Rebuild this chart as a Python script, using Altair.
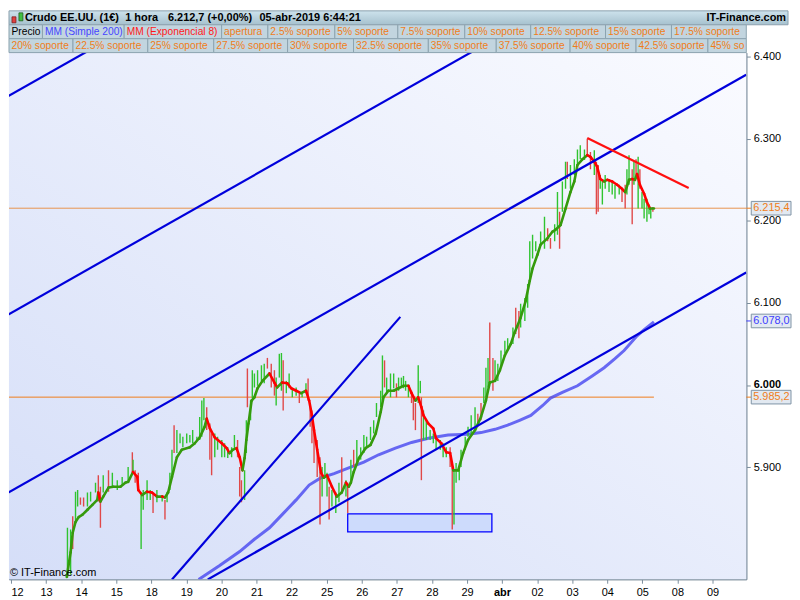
import altair as alt
import pandas as pd

# ---------------- data ----------------
day_labels = ["12", "13", "14", "15", "18", "19", "20", "21", "22", "25", "26",
              "27", "28", "29", "abr", "02", "03", "04", "05", "08", "09"]
price_ticks = [5900, 6000, 6100, 6200, 6300, 6400]

title_parts = ["Crudo EE.UU. (1€)", "1 hora", "6.212,7 (+0,00%)", "05-abr-2019 6:44:21"]
site_name = "IT-Finance.com"
copyright_text = "© IT-Finance.com"

legend_row1 = ["Precio", "MM (Simple 200)", "MM (Exponencial 8)", "apertura", "2.5% soporte",
               "5% soporte", "7.5% soporte", "10% soporte", "12.5% soporte", "15% soporte",
               "17.5% soporte"]
legend_row2 = ["20% soporte", "22.5% soporte", "25% soporte", "27.5% soporte", "30% soporte",
               "32.5% soporte", "35% soporte", "37.5% soporte", "40% soporte", "42.5% soporte",
               "45% soporte"]

# EMA 8 (time in trading-day units, price)
ema_t = [1.59, 1.70, 1.76, 1.84, 1.93, 2.04, 2.18, 2.32, 2.46, 2.49, 2.55, 2.63, 2.78, 2.92, 3.12,
         3.26, 3.34, 3.48, 3.60, 3.63, 3.74, 3.88, 4.02, 4.16, 4.31, 4.39, 4.48, 4.59, 4.73, 4.87,
         5.10, 5.24, 5.38, 5.52, 5.58, 5.67, 5.81, 6.01, 6.15, 6.23, 6.32, 6.43, 6.52, 6.60, 6.66,
         6.71, 6.77, 6.86, 6.94, 7.03, 7.17, 7.37, 7.51, 7.59, 7.73, 7.88, 7.99, 8.13, 8.27, 8.41,
         8.50, 8.58, 8.64, 8.73, 8.84, 8.92, 9.01, 9.15, 9.29, 9.43, 9.55, 9.63, 9.69, 9.77, 9.92,
         10.11, 10.25, 10.40, 10.54, 10.62, 10.76, 10.91, 11.05, 11.19, 11.33, 11.42, 11.53, 11.61,
         11.70, 11.76, 11.90, 12.04, 12.12, 12.27, 12.41, 12.52, 12.61, 12.75, 12.89, 13.03, 13.23,
         13.40, 13.54, 13.65, 13.80, 13.94, 14.08, 14.25, 14.36, 14.53, 14.67, 14.79, 14.87, 15.01,
         15.10, 15.30, 15.44, 15.52, 15.67, 15.81, 15.95, 16.06, 16.15, 16.29, 16.43, 16.52, 16.63,
         16.71, 16.80, 16.91, 17.00, 17.14, 17.28, 17.42, 17.51, 17.62, 17.71, 17.79, 17.85, 17.93,
         18.05, 18.13, 18.22, 18.33]
ema_v = [5766, 5796, 5820, 5833, 5839, 5842, 5848, 5854, 5860, 5869, 5858, 5864, 5875, 5876, 5876,
         5881, 5882, 5894, 5888, 5872, 5866, 5870, 5869, 5864, 5864, 5863, 5869, 5888, 5912, 5921,
         5924, 5929, 5936, 5949, 5959, 5947, 5936, 5929, 5923, 5917, 5921, 5923, 5912, 5896, 5911,
         5933, 5953, 5981, 5985, 5996, 6005, 6014, 6003, 5997, 6003, 6002, 5996, 5993, 5990, 5993,
         5981, 5963, 5945, 5921, 5893, 5887, 5890, 5876, 5864, 5869, 5881, 5876, 5881, 5894, 5911,
         5923, 5927, 5941, 5967, 5985, 5993, 5993, 5996, 5999, 5999, 5990, 5981, 5985,
         5973, 5963, 5953, 5947, 5935, 5929, 5918, 5917, 5896, 5896, 5917, 5933, 5945,
         5961, 5981, 6003, 6005, 6018, 6036, 6050, 6064, 6082, 6102, 6127, 6142, 6159,
         6171, 6179, 6187, 6189, 6195, 6215, 6235, 6248, 6268, 6275, 6280, 6278, 6272,
         6266, 6251, 6248, 6250, 6248, 6244, 6239, 6235, 6250, 6251, 6250, 6257, 6244,
         6233, 6223, 6215, 6215]

# hourly price bars (sampled): time, high, low, up(1)/down(0)
bar_t = [1.61, 1.70, 1.76, 1.84, 1.90, 1.98, 2.07, 2.18, 2.27, 2.41, 2.49, 2.55, 2.63, 2.78, 2.89,
         3.03, 3.17, 3.34, 3.46, 3.48, 3.54, 3.63, 3.71, 3.77, 3.88, 3.97, 4.05, 4.16, 4.31, 4.39,
         4.45, 4.53, 4.59, 4.65, 4.73, 4.82, 4.90, 5.01, 5.10, 5.18, 5.30, 5.38, 5.44, 5.50, 5.58,
         5.67, 5.72, 5.81, 5.89, 6.01, 6.09, 6.18, 6.29, 6.37, 6.46, 6.52, 6.57, 6.66, 6.71, 6.74,
         6.83, 6.88, 6.94, 7.03, 7.14, 7.22, 7.31, 7.42, 7.51, 7.56, 7.65, 7.71, 7.76, 7.85, 7.93,
         8.02, 8.13, 8.22, 8.30, 8.41, 8.47, 8.53, 8.58, 8.64, 8.73, 8.81, 8.87, 8.95, 9.01, 9.07,
         9.15, 9.26, 9.35, 9.43, 9.55, 9.60, 9.69, 9.77, 9.86, 9.97, 10.06, 10.14, 10.25, 10.34,
         10.42, 10.54, 10.59, 10.65, 10.71, 10.82, 10.91, 10.99, 11.05, 11.13, 11.19, 11.25, 11.33,
         11.42, 11.47, 11.53, 11.61, 11.67, 11.70, 11.76, 11.84, 11.95, 12.04, 12.12, 12.24, 12.32,
         12.41, 12.52, 12.58, 12.63, 12.69, 12.78, 12.83, 12.95, 13.03, 13.12, 13.23, 13.31, 13.40,
         13.48, 13.54, 13.60, 13.65, 13.74, 13.80, 13.88, 13.97, 14.08, 14.16, 14.31, 14.39, 14.48,
         14.53, 14.65, 14.73, 14.79, 14.87, 14.96, 15.10, 15.21, 15.30, 15.38, 15.50, 15.58, 15.64,
         15.72, 15.81, 15.86, 15.95, 16.06, 16.15, 16.23, 16.35, 16.43, 16.52, 16.63, 16.69, 16.74,
         16.80, 16.86, 16.94, 17.05, 17.14, 17.22, 17.34, 17.42, 17.51, 17.56, 17.62, 17.71, 17.76,
         17.82, 17.88, 17.93, 17.99, 18.05, 18.13, 18.19, 18.24, 18.30]
bar_high = [5826, 5824, 5840, 5870, 5872, 5863, 5863, 5869, 5870, 5881, 5890, 5876, 5890, 5896, 5893,
            5884, 5888, 5900, 5918, 5909, 5896, 5893, 5869, 5872, 5884, 5872, 5869, 5872, 5866, 5860,
            5870, 5893, 5921, 5951, 5945, 5941, 5937, 5941, 5939, 5945, 5937, 5961, 5981, 5984, 5973,
            5953, 5941, 5941, 5937, 5933, 5929, 5924, 5924, 5939, 5933, 5900, 5884, 5896, 5957, 6020,
            5981, 6018, 6014, 6018, 6024, 6026, 6033, 6026, 6018, 6009, 6038, 6039, 6030, 6005, 6014,
            5996, 5997, 5990, 5991, 6002, 6008, 5978, 5969, 5949, 5933, 5912, 5900, 5905, 5893, 5876,
            5872, 5869, 5881, 5912, 5884, 5881, 5909, 5921, 5933, 5924, 5939, 5937, 5949, 5957,
            5978, 5993, 6036, 6030, 6009, 6014, 6014, 6002, 6009, 6009, 6011, 6005, 5997,
            5993, 5985, 5978, 6024, 6005, 5985, 5969, 5957, 5945, 5941, 5933, 5933, 5929,
            5924, 5924, 5905, 5896, 5905, 5900, 5921, 5937, 5949, 5963, 5973, 5965, 5978,
            5997, 6021, 6033, 6076, 6033, 6030, 6026, 6042, 6054, 6057, 6070, 6094, 6090,
            6099, 6106, 6123, 6175, 6183, 6175, 6187, 6205, 6191, 6179, 6196, 6235, 6211,
            6248, 6272, 6272, 6268, 6275, 6287, 6292, 6287, 6300, 6284, 6286, 6272, 6268,
            6256, 6251, 6256, 6251, 6248, 6244, 6244, 6239, 6244, 6263, 6280, 6263, 6272,
            6275, 6278, 6263, 6235, 6227, 6227, 6220, 6215, 6217]
bar_low = [5765, 5769, 5800, 5832, 5852, 5854, 5852, 5852, 5858, 5869, 5858, 5826, 5869, 5870, 5876,
           5872, 5878, 5884, 5893, 5894, 5881, 5872, 5800, 5848, 5860, 5860, 5844, 5857, 5858, 5836,
           5857, 5872, 5890, 5917, 5917, 5929, 5924, 5929, 5930, 5929, 5933, 5933, 5937, 5957, 5945,
           5909, 5890, 5912, 5921, 5912, 5912, 5911, 5912, 5921, 5912, 5864, 5857, 5860, 5917, 5973,
           5957, 5984, 5997, 5999, 6005, 6002, 6020, 5997, 5987, 5975, 6009, 5993, 5969, 5990, 5996,
           5985, 5987, 5978, 5985, 5990, 5981, 5949, 5929, 5905, 5888, 5830, 5864, 5888, 5864, 5836,
           5852, 5844, 5857, 5870, 5864, 5844, 5884, 5900, 5905, 5909, 5917, 5924, 5933, 5941,
           5961, 5973, 5981, 5997, 5990, 5985, 5996, 5985, 5993, 5997, 5996, 5993, 5985,
           5978, 5957, 5945, 5978, 5990, 5884, 5933, 5933, 5933, 5929, 5921, 5921, 5912,
           5912, 5900, 5824, 5830, 5881, 5884, 5900, 5921, 5937, 5941, 5949, 5949, 5957,
           5978, 5985, 5997, 6002, 5993, 6005, 6005, 6021, 6038, 6042, 6050, 6062, 6057,
           6070, 6078, 6094, 6130, 6154, 6163, 6171, 6166, 6175, 6166, 6175, 6183, 6166,
           6211, 6239, 6251, 6239, 6256, 6268, 6275, 6274, 6280, 6263, 6256, 6208, 6211,
           6239, 6220, 6239, 6235, 6232, 6227, 6232, 6223, 6215, 6232, 6244, 6196, 6244,
           6251, 6215, 6239, 6215, 6203, 6199, 6208, 6203, 6211]
bar_up = [1, 1, 0, 1, 1, 0, 0, 1, 1, 1, 0, 0, 1, 0, 1,
          1, 1, 1, 0, 1, 0, 0, 1, 1, 1, 1, 0, 1, 1, 0,
          1, 1, 1, 0, 1, 1, 1, 1, 1, 1, 1, 1, 1, 1, 0,
          0, 0, 1, 1, 1, 1, 1, 1, 1, 0, 0, 0, 1, 1, 0,
          1, 1, 1, 1, 1, 1, 0, 0, 0, 1, 1, 1, 0, 1, 1,
          1, 1, 0, 1, 1, 0, 0, 0, 0, 0, 0, 1, 1, 1, 0,
          1, 1, 1, 0, 1, 0, 1, 0, 1, 1, 1, 1, 1, 1,
          1, 1, 1, 0, 1, 1, 1, 0, 1, 1, 1, 1, 1,
          0, 0, 0, 1, 1, 0, 1, 1, 1, 1, 1, 1, 1,
          1, 0, 0, 1, 1, 1, 1, 1, 1, 1, 1, 0, 0,
          1, 1, 1, 0, 0, 1, 1, 1, 1, 1, 1, 0, 0,
          1, 1, 1, 1, 1, 1, 1, 1, 0, 0, 1, 1, 0,
          1, 1, 0, 1, 1, 1, 1, 1, 0, 0, 1, 0, 0,
          1, 1, 1, 1, 1, 1, 1, 0, 0, 1, 1, 0, 1,
          0, 1, 0, 1, 1, 1, 1, 1, 0]

# simple moving average 200
sma_t = [5.35, 5.95, 6.52, 6.94, 7.37, 7.73, 8.13, 8.50, 8.84, 9.21, 9.63, 10.06, 10.48, 10.96,
         11.42, 11.90, 12.46, 13.03, 13.40, 13.80, 14.16, 14.50, 14.82, 15.16, 15.38, 15.72, 16.15,
         16.57, 16.91, 17.22, 17.48, 17.85, 18.07, 18.33]
sma_v = [5763, 5780, 5797, 5812, 5826, 5842, 5860, 5878, 5887, 5892, 5899, 5906, 5915, 5923,
         5930, 5935, 5939, 5940, 5942, 5946, 5951, 5957, 5963, 5975, 5984, 5991, 5999,
         6011, 6021, 6032, 6042, 6060, 6068, 6077]

# drawn trend lines (start/end)
trend_t1 = [-0.28, -0.28, -0.28, 5.61, 4.59]
trend_v1 = [6347, 6081, 5864, 5763, 5763]
trend_t2 = [2.32, 13.31, 20.96, 20.96, 11.10]
trend_v2 = [6410, 6410, 6378, 6137, 6083]
resist_t = [16.43, 19.32]
resist_v = [6301, 6240]

zone_t = [9.60, 13.71]
zone_v = [5821, 5843]

level_v = [6215.4, 5985.2]
level_end = [20.96, 18.33]

tag_v = [6215.4, 6078.0, 5985.2]
tag_kind = ["level", "sma", "level"]

# ---------------- layout / style ----------------
W, H = 742, 530
T0 = -0.0567
T1 = T0 + W / 35.3
P0, P1 = 5763.3, 6405.0
FONT = "Liberation Sans"

GREEN_BAR, RED_BAR = "#2fc42f", "#e04848"
EMA_G, EMA_R = "#359a0c", "#ff0000"
ORANGE, BLUE_TXT, GRID = "#f07d1a", "#3c3cff", "#7b8d9c"

xs = alt.Scale(domain=[T0, T1], nice=False, zero=False)
ys = alt.Scale(domain=[P0, P1], nice=False, zero=False)

labels_js = "[" + ",".join("'%s'" % s for s in day_labels) + "]"
abr_idx = day_labels.index("abr")

x_axis = alt.Axis(values=list(range(len(day_labels))), labelExpr=f"{labels_js}[datum.value]",
                  labelFontWeight={"expr": f"datum.value == {abr_idx} ? 'bold' : 'normal'"},
                  labelAlign={"expr": "datum.value == 0 ? 'left' : 'center'"},
                  title=None, grid=False, tickSize=4, labelPadding=3, labelFontSize=11,
                  labelColor="#000000", domainColor=GRID, tickColor=GRID, labelFont=FONT,
                  labelFlush=False, labelOverlap=False)
y_axis = alt.Axis(orient="right", values=price_ticks,
                  labelExpr="replace(format(datum.value, ','), ',', '.')",
                  labelFontWeight={"expr": "datum.value == 6000 ? 'bold' : 'normal'"},
                  title=None, grid=False, tickSize=4, labelPadding=3, labelFontSize=11,
                  labelColor="#000000", domainColor=GRID, tickColor=GRID, labelFont=FONT,
                  labelFlush=False, labelOverlap=False)

one = pd.DataFrame({"a": [0]})

# ---------------- frames ----------------
bars_df = pd.DataFrame({"t": bar_t, "hi": bar_high, "lo": bar_low, "up": bar_up})
bars_df["c"] = [GREEN_BAR if u else RED_BAR for u in bar_up]

seg_rows = []
for i in range(len(ema_t) - 1):
    seg_rows.append({"t": ema_t[i], "v": ema_v[i], "t2": ema_t[i + 1], "v2": ema_v[i + 1],
                     "c": EMA_G if ema_v[i + 1] >= ema_v[i] else EMA_R})
ema_df = pd.DataFrame(seg_rows)
assert len(ema_t) == len(ema_v)

sma_df = pd.DataFrame({"t": sma_t, "v": sma_v})
trend_df = pd.DataFrame({"t": trend_t1, "v": trend_v1, "t2": trend_t2, "v2": trend_v2})
resist_df = pd.DataFrame({"t": [resist_t[0]], "v": [resist_v[0]],
                          "t2": [resist_t[1]], "v2": [resist_v[1]]})
zone_df = pd.DataFrame({"t": [zone_t[0]], "t2": [zone_t[1]], "v": [zone_v[0]], "v2": [zone_v[1]]})
level_df = pd.DataFrame({"t": [T0] * len(level_v), "t2": level_end, "v": level_v,
                         "c": ["#e89550", ORANGE]})


def eu(v):
    s = f"{v:,.1f}"
    return s.replace(",", "#").replace(".", ",").replace("#", ".")


tag_df = pd.DataFrame({"v": tag_v, "txt": [eu(v) for v in tag_v],
                       "c": [ORANGE if k == "level" else BLUE_TXT for k in tag_kind]})
tag_df["top"] = tag_df["v"] + 8.3
tag_df["bot"] = tag_df["v"] - 8.3

# header legend boxes
row1_w = [34, 83, 99, 47, 68, 64, 68, 67, 76, 67, 76]
row2_w = [65, 76, 67, 75, 67, 76, 69, 75, 67, 73, 73]
scale_w = W / sum(row1_w)
hdr = []
for row, (labs, ws) in enumerate([(legend_row1, row1_w), (legend_row2, row2_w)]):
    x = 0.0
    for i, (lab, w) in enumerate(zip(labs, ws)):
        w = w * scale_w
        x1 = min(x + w, W)
        if x >= W:
            break
        txt = lab
        if x + w > W + 1:
            n = max(1, int((W - x - 3) / 5.6))
            txt = lab[:n]
        if row == 0 and i == 0:
            col = "#000000"
        elif row == 0 and i == 1:
            col = "#4646ff"
        elif row == 0 and i == 2:
            col = "#ff1a1a"
        else:
            col = ORANGE
        hdr.append({"x0": x, "x1": x1, "y0": -28 + 14 * row, "y1": -14 + 14 * row,
                    "ym": -21 + 14 * row, "tx": x + 2.5, "txt": txt, "c": col})
        x = x + w
hdr_df = pd.DataFrame(hdr)

title_df = pd.DataFrame({"txt": title_parts, "x": [16, 117, 160, 252]})

# ---------------- layers ----------------
grad_bg = {"gradient": "linear", "x1": 1, "y1": 0, "x2": 0, "y2": 1,
           "stops": [{"offset": 0, "color": "#fafbff"}, {"offset": 1, "color": "#d5def8"}]}
bg = alt.Chart(one).mark_rect(fill=grad_bg).encode(
    x=alt.value(0), x2=alt.value(W), y=alt.value(0), y2=alt.value(H))


def X(f):
    return alt.X(f, scale=xs, axis=x_axis)


def Y(f):
    return alt.Y(f, scale=ys, axis=y_axis)


levels = alt.Chart(level_df).mark_rule(strokeWidth=1, clip=True).encode(
    x=X("t:Q"), x2="t2:Q", y=Y("v:Q"), color=alt.Color("c:N", scale=None))

zone = alt.Chart(zone_df).mark_rect(fill="#cddbfc", stroke="#0000ff", strokeWidth=1.3).encode(
    x=X("t:Q"), x2="t2:Q", y=Y("v:Q"), y2="v2:Q")

sma = alt.Chart(sma_df).mark_line(strokeWidth=3, color="#4646f0", opacity=0.8, clip=True).encode(
    x=X("t:Q"), y=Y("v:Q"))

bars = alt.Chart(bars_df).mark_rule(strokeWidth=1.4, clip=True).encode(
    x=X("t:Q"), y=Y("hi:Q"), y2="lo:Q", color=alt.Color("c:N", scale=None))

ema = alt.Chart(ema_df).mark_rule(strokeWidth=2.6, strokeCap="round", clip=True).encode(
    x=X("t:Q"), y=Y("v:Q"), x2="t2:Q", y2="v2:Q", color=alt.Color("c:N", scale=None))

trends = alt.Chart(trend_df).mark_rule(strokeWidth=2.2, color="#0000dc", clip=True).encode(
    x=X("t:Q"), y=Y("v:Q"), x2="t2:Q", y2="v2:Q")

resist = alt.Chart(resist_df).mark_rule(strokeWidth=2.2, color="#ff1010", clip=True).encode(
    x=X("t:Q"), y=Y("v:Q"), x2="t2:Q", y2="v2:Q")

tag_ticks = alt.Chart(tag_df).mark_rule(strokeWidth=1).encode(
    x=alt.value(W), x2=alt.value(W + 5), y=Y("v:Q"), color=alt.Color("c:N", scale=None))
tag_box = alt.Chart(tag_df).mark_rect(fill="#e2e9f1", stroke="#7f93a5", strokeWidth=1).encode(
    x=alt.value(W + 5), x2=alt.value(W + 45), y=Y("top:Q"), y2="bot:Q")
tag_txt = alt.Chart(tag_df).mark_text(align="left", baseline="middle", fontSize=11, font=FONT).encode(
    x=alt.value(W + 7), y=Y("v:Q"), text="txt:N", color=alt.Color("c:N", scale=None))

# header
grad_bar = {"gradient": "linear", "x1": 0, "y1": 0, "x2": 0, "y2": 1,
            "stops": [{"offset": 0, "color": "#cde2ec"}, {"offset": 1, "color": "#a6c1ce"}]}
title_bar = alt.Chart(one).mark_rect(fill=grad_bar, stroke="#8ba0ad", strokeWidth=1).encode(
    x=alt.value(0), x2=alt.value(784), y=alt.value(-42), y2=alt.value(-28))
icon_red = alt.Chart(one).mark_rect(fill="#e04040", stroke="#802020", strokeWidth=0.8).encode(
    x=alt.value(3), x2=alt.value(7), y=alt.value(-36), y2=alt.value(-30))
icon_green = alt.Chart(one).mark_rect(fill="#40c040", stroke="#206020", strokeWidth=0.8).encode(
    x=alt.value(10), x2=alt.value(14), y=alt.value(-40), y2=alt.value(-32))
title_txt = alt.Chart(title_df).mark_text(align="left", baseline="middle", fontSize=11,
                                          fontWeight="bold", font=FONT, color="#000000").encode(
    x=alt.X("x:Q", scale=None), y=alt.value(-35), text="txt:N")
site_txt = alt.Chart(one).mark_text(align="right", baseline="middle", fontSize=11, fontWeight="bold",
                                    font=FONT, color="#000000", text=site_name).encode(
    x=alt.value(782), y=alt.value(-35))
hdr_box = alt.Chart(hdr_df).mark_rect(fill="#c2d5df", stroke="#8ca3af", strokeWidth=1).encode(
    x=alt.X("x0:Q", scale=None), x2="x1:Q", y=alt.Y("y0:Q", scale=None), y2="y1:Q")
hdr_txt = alt.Chart(hdr_df).mark_text(align="left", baseline="middle", fontSize=10.3, font=FONT).encode(
    x=alt.X("tx:Q", scale=None), y=alt.Y("ym:Q", scale=None), text="txt:N",
    color=alt.Color("c:N", scale=None))
copy_txt = alt.Chart(one).mark_text(align="left", baseline="middle", fontSize=11, font=FONT,
                                    color="#000000", text=copyright_text).encode(
    x=alt.value(1), y=alt.value(H - 6))

chart = alt.layer(
    bg, levels, zone, sma, bars, ema, trends, resist,
    tag_ticks, tag_box, tag_txt,
    title_bar, icon_red, icon_green, title_txt, site_txt, hdr_box, hdr_txt, copy_txt
).properties(width=W, height=H, padding=0, background="#ffffff").configure_view(
    stroke=GRID, strokeWidth=1)

chart.save("out.html", embed_options={"renderer": "svg", "actions": False})
